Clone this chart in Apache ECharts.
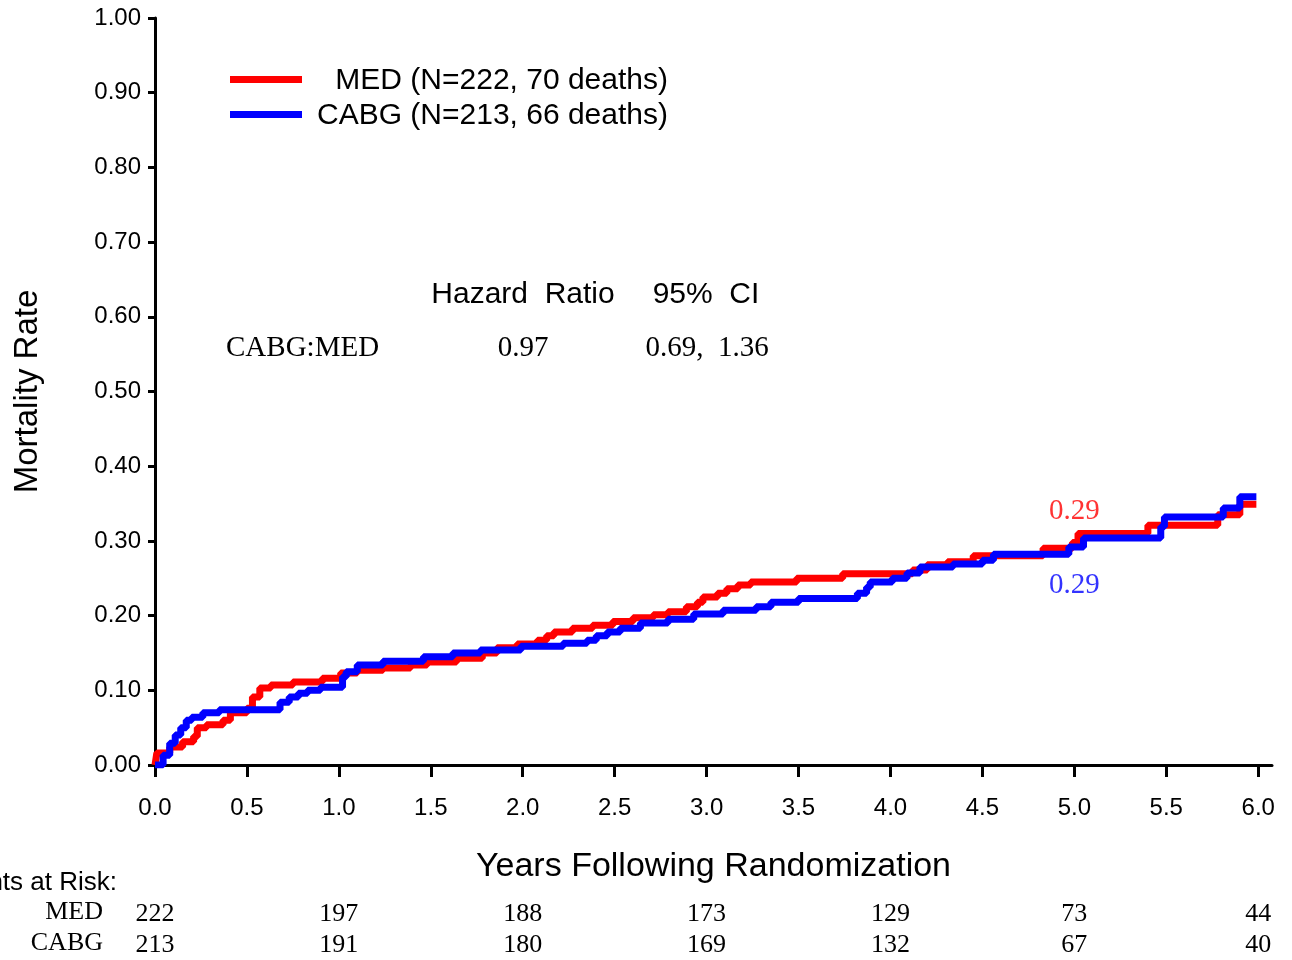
<!DOCTYPE html>
<html>
<head>
<meta charset="utf-8">
<script src="https://cdn.jsdelivr.net/npm/echarts@6/dist/echarts.min.js"></script>
<style>
html,body{margin:0;padding:0;background:#fff;}
#chart{width:1292px;height:960px;}
</style>
</head>
<body>
<div id="chart"></div>
<script>
// ---- data ----
var seriesNames = ['MED (N=222, 70 deaths)', 'CABG (N=213, 66 deaths)'];
// step points [years, mortality rate] (value holds until next point)
var medCurve = [
  [0,0],[0.01,0.016],[0.08,0.024],[0.15,0.031],[0.21,0.038],[0.23,0.05],[0.28,0.054],
  [0.37,0.06],[0.41,0.07],[0.50,0.076],[0.53,0.091],[0.57,0.103],[0.63,0.107],[0.75,0.111],
  [0.91,0.116],[1.01,0.123],[1.10,0.127],[1.24,0.130],[1.39,0.134],[1.48,0.138],[1.64,0.143],
  [1.78,0.150],[1.86,0.157],[1.97,0.162],[2.08,0.167],[2.13,0.173],[2.17,0.178],[2.27,0.183],
  [2.38,0.187],[2.49,0.192],[2.60,0.197],[2.71,0.201],[2.79,0.205],[2.89,0.212],[2.95,0.218],
  [2.98,0.225],[3.06,0.230],[3.11,0.236],[3.17,0.241],[3.24,0.245],[3.49,0.250],[3.74,0.256],
  [4.12,0.261],[4.20,0.268],[4.31,0.272],[4.45,0.280],[4.83,0.290],[4.99,0.298],[5.02,0.310],
  [5.40,0.321],[5.78,0.335],[5.90,0.349],[5.99,0.349]
];
var cabgCurve = [
  [0,0],[0.044,0.013],[0.08,0.029],[0.11,0.040],[0.14,0.050],[0.17,0.060],[0.20,0.064],
  [0.26,0.070],[0.35,0.074],[0.68,0.084],[0.73,0.091],[0.78,0.096],[0.83,0.100],[0.90,0.104],
  [1.02,0.118],[1.04,0.125],[1.10,0.134],[1.24,0.139],[1.46,0.145],[1.62,0.150],[1.77,0.154],
  [1.99,0.159],[2.22,0.163],[2.35,0.167],[2.40,0.173],[2.46,0.178],[2.53,0.183],[2.64,0.190],
  [2.79,0.195],[2.93,0.202],[3.09,0.207],[3.27,0.212],[3.35,0.218],[3.50,0.223],[3.82,0.230],
  [3.87,0.238],[3.89,0.245],[4.01,0.250],[4.09,0.257],[4.16,0.265],[4.34,0.269],[4.50,0.274],
  [4.56,0.282],[4.97,0.292],[5.05,0.304],[5.47,0.319],[5.49,0.332],[5.81,0.344],[5.90,0.359],
  [5.99,0.359]
];
var xTicks = [0,0.5,1,1.5,2,2.5,3,3.5,4,4.5,5,5.5,6];
var riskTimes = [0,1,2,3,4,5,6];
var riskRowNames = ['MED', 'CABG'];
var medRisk = [222,197,188,173,129,73,44];
var cabgRisk = [213,191,180,169,132,67,40];
var endLabelText = ['0.29', '0.29'];
var endLabelPos = [[5.0,0.34],[5.0,0.241]];
var hrHeader = ['Hazard  Ratio', '95%  CI'];
var hrRow = ['CABG:MED', '0.97', '0.69,  1.36'];
var riskTitle = 'Patients at Risk:';

// ---- chart ----
var SANS = '"Liberation Sans", Arial, sans-serif';
var SERIF = '"Liberation Serif", "Times New Roman", serif';
var RED = '#ff0000', BLUE = '#0000ff';
var chart = echarts.init(document.getElementById('chart'));

function riskAxis(idx, arr) {
  return {
    type: 'value', gridIndex: idx, min: 0, max: 6.075, position: 'bottom',
    axisLine: {show: false}, axisTick: {show: false}, splitLine: {show: false},
    axisLabel: {
      customValues: riskTimes, margin: 1, verticalAlign: 'middle',
      fontFamily: SERIF, fontSize: 26, color: '#000',
      formatter: function (v) { var i = riskTimes.indexOf(Math.round(v)); return i >= 0 ? String(arr[i]) : ''; }
    }
  };
}
function riskYAxis(idx, name) {
  return {
    type: 'category', gridIndex: idx, data: [name],
    axisLine: {show: false}, axisTick: {show: false}, splitLine: {show: false},
    axisLabel: {margin: 52, fontFamily: SERIF, fontSize: 26, color: '#000'}
  };
}

var option = {
  animation: false,
  backgroundColor: '#fff',
  grid: [
    {left: 155, top: 18, right: 20, bottom: 195},
    {left: 155, right: 20, top: 912, height: 1},
    {left: 155, right: 20, top: 943, height: 1}
  ],
  legend: {
    data: seriesNames, orient: 'vertical', left: 230, top: 63, padding: 0,
    itemWidth: 72, itemHeight: 7, itemGap: 2, icon: 'rect', selectedMode: false,
    formatter: '{r|{name}}',
    textStyle: {
      color: '#000', fontFamily: SANS, fontSize: 30,
      rich: {r: {width: 361, align: 'right', fontFamily: SANS, fontSize: 30, lineHeight: 30, color: '#000', padding: [3, 0, 0, 0]}}
    }
  },
  xAxis: [
    {
      type: 'value', gridIndex: 0, min: 0, max: 6.075,
      name: 'Years Following Randomization', nameLocation: 'middle', nameGap: 85,
      nameTextStyle: {fontFamily: SANS, fontSize: 34, color: '#000'},
      axisLine: {lineStyle: {color: '#000', width: 3}},
      axisTick: {customValues: xTicks, length: 12, lineStyle: {color: '#000', width: 3}},
      splitLine: {show: false},
      axisLabel: {customValues: xTicks, margin: 31, fontFamily: SANS, fontSize: 24, color: '#000',
        formatter: function (v) { return v.toFixed(1); }}
    },
    riskAxis(1, medRisk),
    riskAxis(2, cabgRisk)
  ],
  yAxis: [
    {
      type: 'value', gridIndex: 0, min: 0, max: 1, interval: 0.1,
      name: 'Mortality Rate', nameLocation: 'middle', nameGap: 111,
      nameTextStyle: {fontFamily: SANS, fontSize: 33, color: '#000'},
      axisLine: {show: true, lineStyle: {color: '#000', width: 3}},
      axisTick: {show: true, length: 7, lineStyle: {color: '#000', width: 3}},
      splitLine: {show: false},
      axisLabel: {margin: 14, fontFamily: SANS, fontSize: 24, color: '#000',
        formatter: function (v) { return v.toFixed(2); }}
    },
    riskYAxis(1, riskRowNames[0]),
    riskYAxis(2, riskRowNames[1])
  ],
  series: [
    {name: seriesNames[0], type: 'line', step: 'end', data: medCurve, showSymbol: false, symbol: 'none',
      color: RED, lineStyle: {color: RED, width: 7}, xAxisIndex: 0, yAxisIndex: 0},
    {name: seriesNames[1], type: 'line', step: 'end', data: cabgCurve, showSymbol: false, symbol: 'none',
      color: BLUE, lineStyle: {color: BLUE, width: 7}, xAxisIndex: 0, yAxisIndex: 0},
    {name: 'medEnd', type: 'scatter', data: [endLabelPos[0]], symbolSize: 0, silent: true,
      label: {show: true, position: 'inside', formatter: endLabelText[0], color: RED, fontFamily: SERIF, fontSize: 29}},
    {name: 'cabgEnd', type: 'scatter', data: [endLabelPos[1]], symbolSize: 0, silent: true,
      label: {show: true, position: 'inside', formatter: endLabelText[1], color: BLUE, fontFamily: SERIF, fontSize: 29}}
  ],
  graphic: [
    {type: 'text', x: 523, y: 295, style: {text: hrHeader[0], font: '30px ' + SANS, fill: '#000', textAlign: 'center', textVerticalAlign: 'middle'}},
    {type: 'text', x: 706, y: 295, style: {text: hrHeader[1], font: '30px ' + SANS, fill: '#000', textAlign: 'center', textVerticalAlign: 'middle'}},
    {type: 'text', x: 226, y: 348, style: {text: hrRow[0], font: '29px ' + SERIF, fill: '#000', textAlign: 'left', textVerticalAlign: 'middle'}},
    {type: 'text', x: 523, y: 348, style: {text: hrRow[1], font: '29px ' + SERIF, fill: '#000', textAlign: 'center', textVerticalAlign: 'middle'}},
    {type: 'text', x: 707, y: 348, style: {text: hrRow[2], font: '29px ' + SERIF, fill: '#000', textAlign: 'center', textVerticalAlign: 'middle'}},
    {type: 'text', x: 117, y: 883, style: {text: riskTitle, font: '26px ' + SANS, fill: '#000', textAlign: 'right', textVerticalAlign: 'middle'}}
  ]
};
chart.setOption(option);
</script>
</body>
</html>
